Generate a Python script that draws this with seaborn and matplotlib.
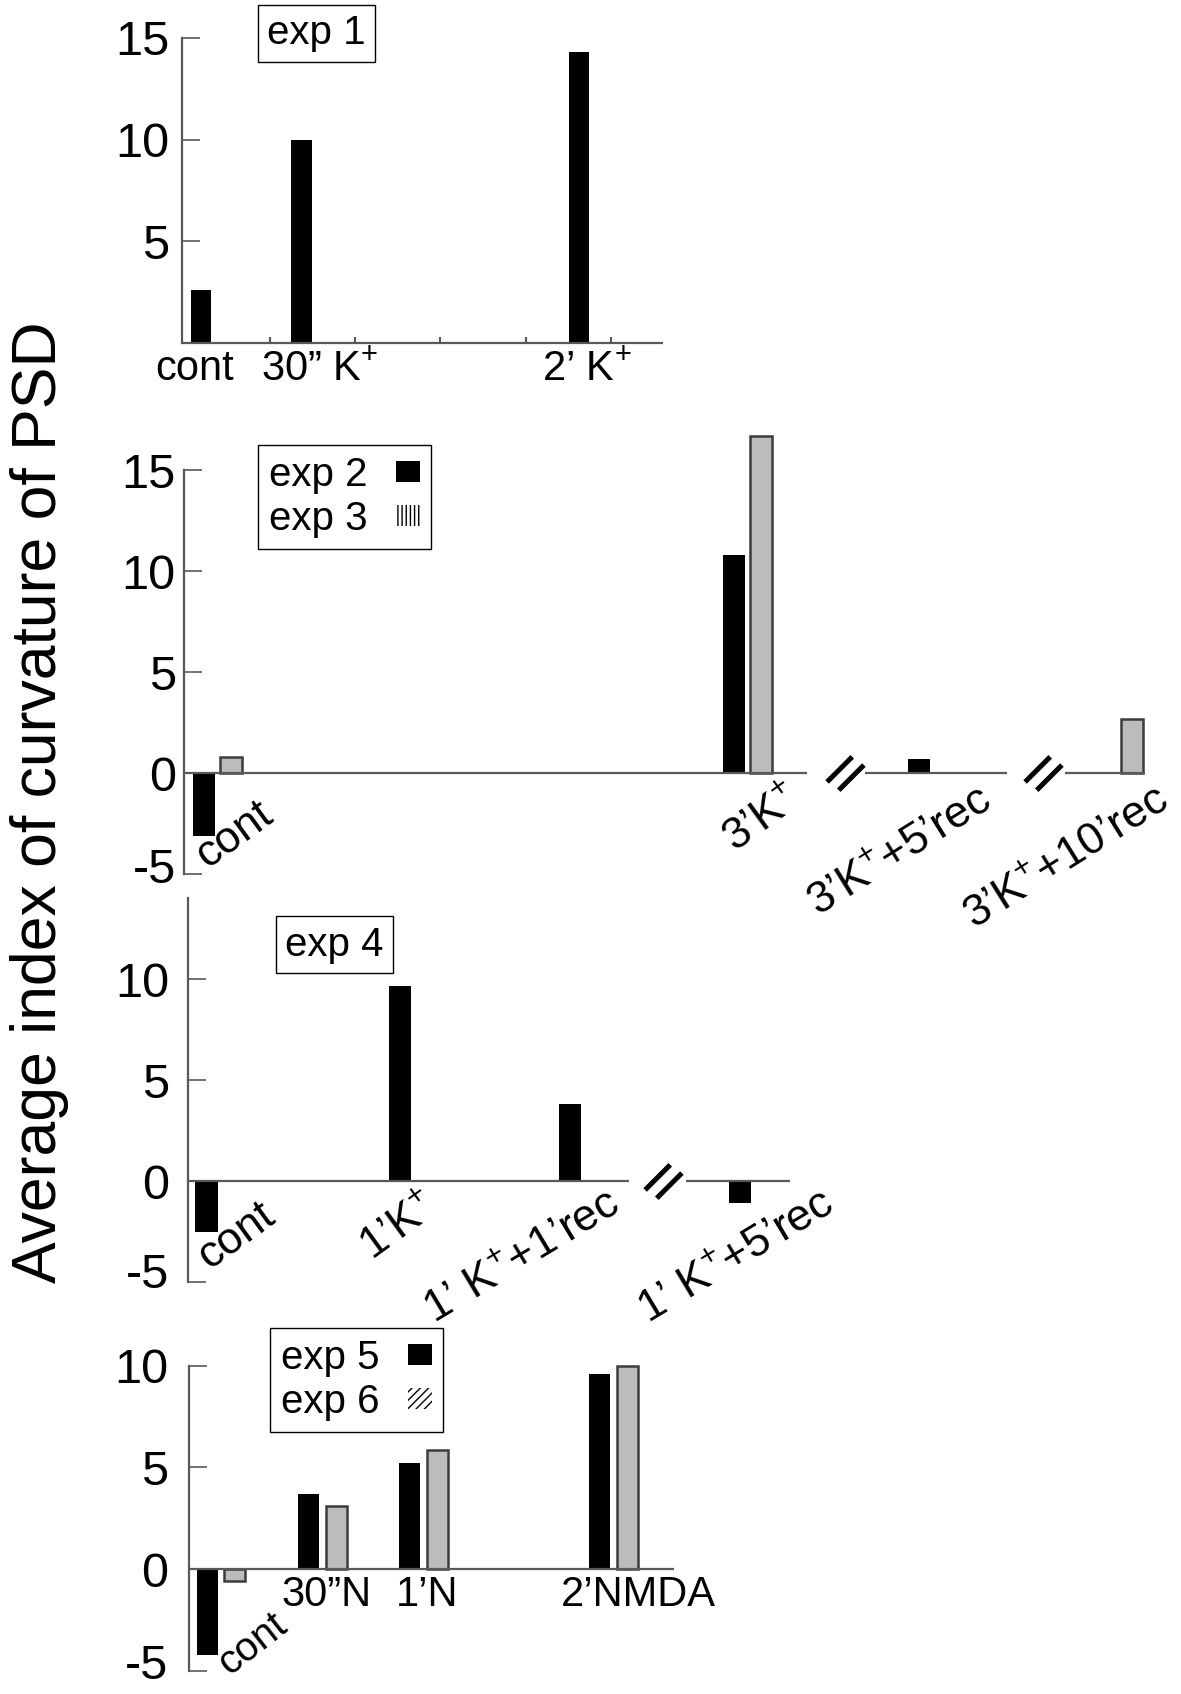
import numpy as np
import pandas as pd
import matplotlib
matplotlib.use("Agg")
import matplotlib.pyplot as plt
from matplotlib.path import Path
from matplotlib.patches import Patch
from matplotlib.transforms import ScaledTranslation
import seaborn as sns

# values
p1_cats = ["cont", "30\u201d K$^{+}$", "2\u2019 K$^{+}$"]
p1_vals = [2.6, 10.0, 14.3]

p2_cats = ["cont", "3\u2019K$^{+}$", "3\u2019K$^{+}$+5\u2019rec", "3\u2019K$^{+}$+10\u2019rec"]
p2_exp2 = [-3.1, 10.8, 0.7, None]
p2_exp3 = [0.8, 16.7, None, 2.7]

p3_cats = ["cont", "1\u2019K$^{+}$", "1\u2019 K$^{+}$+1\u2019rec", "1\u2019 K$^{+}$+5\u2019rec"]
p3_vals = [-2.5, 9.65, 3.8, -1.1]

p4_cats = ["cont", "30\u201dN", "1\u2019N", "2\u2019NMDA"]
p4_exp5 = [-4.2, 3.7, 5.2, 9.6]
p4_exp6 = [-0.55, 3.1, 5.85, 10.0]

# where each group sits along its (broken) time axis
p1_slot = [0, 4, 15]
p2_slot = [0, 20, 27, 34]
p3_slot = [0, 8, 15, 22]
p4_slot = [0, 4, 8, 15.5]

W, H = 1181, 1694
AXC = "#595959"
GRAY = "#bcbcbc"

plt.rcParams["font.family"] = ["Liberation Sans", "DejaVu Sans"]
plt.rcParams["mathtext.fontset"] = "custom"
plt.rcParams["mathtext.rm"] = "Liberation Sans"
plt.rcParams["mathtext.it"] = "Liberation Sans:italic"
plt.rcParams["mathtext.bf"] = "Liberation Sans:bold"
plt.rcParams["axes.unicode_minus"] = False

fig = plt.figure(figsize=(W / 100, H / 100), dpi=100)


def px_axes(left, top, width, height):
    return fig.add_axes([left / W, 1 - (top + height) / H, width / W, height / H])


def style_axes(ax, xlim, ylim, yticks, ybounds, pad):
    ax.set_xlim(*xlim)
    ax.set_ylim(*ylim)
    ax.set_facecolor("none")
    for s in ["top", "right", "bottom"]:
        ax.spines[s].set_visible(False)
    ax.spines["left"].set_bounds(*ybounds)
    ax.spines["left"].set_color(AXC)
    ax.spines["left"].set_linewidth(1.6)
    ax.set_yticks(yticks)
    ax.set_xticks([])
    ax.tick_params(axis="y", direction="in", length=13, width=1.2, color=AXC,
                   labelsize=35, pad=pad)
    ax.set_xlabel("")
    ax.set_ylabel("")


def raise_bottom_label(ax, px=10):
    # the "-5" labels sit a little above their tick in the original
    lab = ax.get_yticklabels()[0]
    lab.set_transform(lab.get_transform() + ScaledTranslation(0, px / 100, fig.dpi_scale_trans))


def zero_line(ax, a, b):
    ax.hlines(0, a, b, color=AXC, lw=1.6, clip_on=False, zorder=3)


BREAK = Path([(-18.3, -8.4), (6.7, 16.6), (-6.7, -16.6), (18.3, 8.4)],
             [Path.MOVETO, Path.LINETO, Path.MOVETO, Path.LINETO])


def draw_break(ax, x):
    ax.plot([x], [0], marker=BREAK, ms=26.5, mew=3.6, mec="black", mfc="none",
            ls="none", clip_on=False, zorder=4)


def label_cats(ax, slots, cats, shifts, rots, size=30, rot_size=32):
    for x, t, (dx, dy), r in zip(slots, cats, shifts, rots):
        if r:
            ax.annotate(t, (x, 0), xytext=(dx, -dy), textcoords="offset pixels",
                        rotation=r, rotation_mode="anchor", ha="right", va="top",
                        fontsize=rot_size, annotation_clip=False)
        else:
            ax.annotate(t, (x, 0), xytext=(dx, -dy), textcoords="offset pixels",
                        ha="center", va="top", fontsize=size, annotation_clip=False)


def gray_edges(container):
    for bar in container:
        bar.set_edgecolor("#3c3c3c")
        bar.set_linewidth(1.8)


def boxed_title(text, cx, cy):
    fig.text(cx / W, 1 - cy / H, text, ha="center", va="center", fontsize=29,
             bbox=dict(boxstyle="square,pad=0.24", fc="white", ec="black", lw=1.0))


def exp_legend(ax, names, left, top, hatch):
    handles = [Patch(facecolor="black", edgecolor="black", lw=0),
               Patch(facecolor="white", edgecolor="black", hatch=hatch, lw=0)]
    ax.legend(handles, names, loc="upper left",
              bbox_to_anchor=(left / W, 1 - top / H), bbox_transform=fig.transFigure,
              borderaxespad=0, markerfirst=False, fancybox=False, edgecolor="black",
              framealpha=1, fontsize=29, handlelength=0.6, handleheight=0.45,
              handletextpad=0.7, borderpad=0.27, labelspacing=0.15)
    ax.get_legend().get_frame().set_linewidth(1.0)


# ---------- panel 1 : exp 1 ----------
ax1 = px_axes(182.3, 33.7, 480.3, 309.6)
sns.barplot(x=p1_slot, y=p1_vals, native_scale=True, color="black", saturation=1,
            width=0.2, errorbar=None, linewidth=0, ax=ax1)
style_axes(ax1, (-0.734, 18.33), (0, 15.2), [5, 10, 15], (0, 15), 9.4)
zero_line(ax1, -0.734, 18.33)
ax1.set_xticks(np.arange(2.75, 17, 3.38), minor=True)
ax1.tick_params(axis="x", which="minor", direction="in", length=4, width=1.5, color=AXC)
label_cats(ax1, p1_slot, p1_cats, [(-6, 6), (18, 6), (8, 6)], [0, 0, 0])
boxed_title("exp 1", 316.5, 33.3)

# ---------- panel 2 : exp 2 / exp 3 ----------
df2 = pd.DataFrame({"slot": p2_slot * 2,
                    "value": p2_exp2 + p2_exp3,
                    "exp": ["exp 2"] * 4 + ["exp 3"] * 4}).dropna()
ax2 = px_axes(184.1, 429.6, 960.6, 456.9)
sns.barplot(data=df2, x="slot", y="value", hue="exp", hue_order=["exp 2", "exp 3"],
            palette=["black", GRAY], saturation=1, native_scale=True, width=0.291,
            gap=0.185, errorbar=None, linewidth=0, legend=False, ax=ax2)
gray_edges(ax2.containers[1])
style_axes(ax2, (-1.25, 35.0), (-5.6, 17.0), [-5, 0, 5, 10, 15], (-5, 15), 6)
raise_bottom_label(ax2, 9)
zero_line(ax2, -1.25, 22.24)
zero_line(ax2, 24.45, 29.79)
zero_line(ax2, 32.0, 35.0)
draw_break(ax2, 23.68)
draw_break(ax2, 31.17)
label_cats(ax2, p2_slot, p2_cats, [(39, 20), (36, 4), (44, 6), (36, 6)], [36, 36, 32, 32])
exp_legend(ax2, ["exp 2", "exp 3"], 258, 445, "||||")

# ---------- panel 3 : exp 4 ----------
ax3 = px_axes(187.8, 894.2, 602.1, 393.9)
sns.barplot(x=p3_slot, y=p3_vals, native_scale=True, color="black", saturation=1,
            width=0.13, errorbar=None, linewidth=0, ax=ax3)
style_axes(ax3, (-0.77, 24.06), (-5.3, 14.2), [-5, 0, 5, 10], (-5, 14), 13.5)
raise_bottom_label(ax3, 12)
zero_line(ax3, -0.77, 17.43)
zero_line(ax3, 19.78, 24.06)
draw_break(ax3, 18.83)
label_cats(ax3, p3_slot, p3_cats, [(52, 14), (20, 4), (36, 2), (80, 2)], [36, 36, 31, 31])
boxed_title("exp 4", 334.5, 944.7)

# ---------- panel 4 : exp 5 / exp 6 ----------
df4 = pd.DataFrame({"slot": p4_slot * 2,
                    "value": p4_exp5 + p4_exp6,
                    "exp": ["exp 5"] * 4 + ["exp 6"] * 4})
ax4 = px_axes(189.1, 1361.6, 485.0, 313.6)
sns.barplot(data=df4, x="slot", y="value", hue="exp", hue_order=["exp 5", "exp 6"],
            palette=["black", GRAY], saturation=1, native_scale=True, width=0.543,
            gap=0.236, errorbar=None, linewidth=0, legend=False, ax=ax4)
gray_edges(ax4.containers[1])
style_axes(ax4, (-1.27, 17.9), (-5.2, 10.2), [-5, 0, 5, 10], (-5, 10), 15)
raise_bottom_label(ax4, 10)
zero_line(ax4, -1.27, 17.9)
label_cats(ax4, p4_slot, p4_cats, [(50, 36), (4, 6), (3, 6), (25, 6)], [38, 0, 0, 0],
           rot_size=29)
exp_legend(ax4, ["exp 5", "exp 6"], 270, 1328, "////")

fig.text(39.5 / W, 1 - 802 / H, "Average index of curvature of PSD", rotation=90,
         ha="center", va="center", fontsize=45)

fig.savefig("out.png", dpi=100, facecolor="white")
